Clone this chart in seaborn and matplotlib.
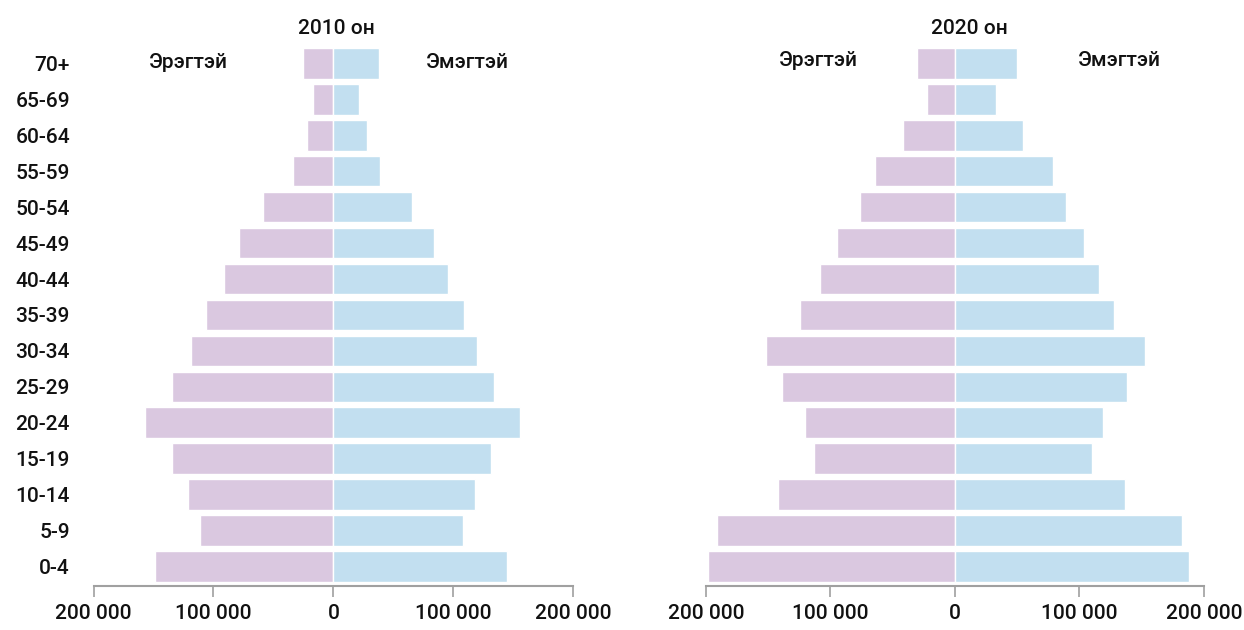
import matplotlib
matplotlib.use("Agg")
import matplotlib.pyplot as plt
from matplotlib.ticker import FuncFormatter, FixedLocator
import seaborn as sns
import pandas as pd

ages = ["70+", "65-69", "60-64", "55-59", "50-54", "45-49", "40-44", "35-39",
        "30-34", "25-29", "20-24", "15-19", "10-14", "5-9", "0-4"]

male_2010 = [25600, 17000, 22000, 33400, 58400, 78800, 91300, 106300,
             119100, 134400, 157500, 134700, 121400, 111600, 148600]
female_2010 = [38300, 21000, 27800, 39000, 65400, 84000, 96000, 109300,
               120200, 134100, 155300, 131900, 118500, 107900, 144700]

male_2020 = [30500, 22500, 41500, 64000, 76400, 94600, 108800, 124300,
             151700, 139300, 120800, 113600, 142500, 191000, 198000]
female_2020 = [50000, 32700, 54900, 78500, 89200, 104000, 115500, 127600,
               153000, 138000, 118700, 109900, 136700, 182200, 187900]

titles = ["2010 он", "2020 он"]
sex_labels = ["Эрэгтэй", "Эмэгтэй"]
xticks = [-200000, -100000, 0, 100000, 200000]

male_color = "#dac8e0"
female_color = "#c2dff0"

sns.set_theme(style="white")
plt.rcParams["font.family"] = ["Roboto", "DejaVu Sans"]
plt.rcParams["font.weight"] = "medium"

FS = 15
TXT = "#111111"

fig = plt.figure(figsize=(12.44, 6.3), dpi=100)
ax1 = fig.add_axes([0.0752, 0.0698, 0.3855, 0.8587])
ax2 = fig.add_axes([0.5675, 0.0698, 0.4003, 0.8587])


def make_df(male, female):
    rows = []
    for a, m, f in zip(ages, male, female):
        rows.append({"age": a, "sex": sex_labels[0], "value": -m})
        rows.append({"age": a, "sex": sex_labels[1], "value": f})
    return pd.DataFrame(rows)


fmt = FuncFormatter(lambda v, p: f"{abs(int(round(v))):,}".replace(",", " "))

for ax, male, female in [(ax1, male_2010, female_2010), (ax2, male_2020, female_2020)]:
    df = make_df(male, female)
    sns.barplot(data=df, x="value", y="age", hue="sex", order=ages,
                hue_order=sex_labels, palette=[male_color, female_color],
                saturation=1, dodge=False, orient="h", width=0.86, errorbar=None,
                edgecolor="white", linewidth=1, legend=False, ax=ax)
    ax.set_xlim(-200000, 200000)
    ax.set_ylim(14.53, -0.5)
    ax.xaxis.set_major_locator(FixedLocator(xticks))
    ax.xaxis.set_major_formatter(fmt)
    ax.set_xlabel("")
    ax.set_ylabel("")
    for s in ["top", "right", "left"]:
        ax.spines[s].set_visible(False)
    ax.spines["bottom"].set_color("#a0a0a0")
    ax.spines["bottom"].set_linewidth(1.5)
    ax.tick_params(axis="x", bottom=True, length=8, width=1.2, color="#a0a0a0",
                   labelsize=FS, pad=5, labelcolor=TXT)

ax1.tick_params(axis="y", left=False, length=0, pad=17, labelsize=FS, labelcolor=TXT)
ax2.tick_params(axis="y", left=False, labelleft=False)

W, H = 1244, 630
fig.text(336 / W, 1 - 29 / H, titles[0], ha="center", va="center", fontsize=FS, color=TXT)
fig.text(969 / W, 1 - 29 / H, titles[1], ha="center", va="center", fontsize=FS, color=TXT)
fig.text(188 / W, 1 - 62 / H, sex_labels[0], ha="center", va="center", fontsize=FS, color=TXT)
fig.text(467 / W, 1 - 62 / H, sex_labels[1], ha="center", va="center", fontsize=FS, color=TXT)
fig.text(818 / W, 1 - 60 / H, sex_labels[0], ha="center", va="center", fontsize=FS, color=TXT)
fig.text(1119 / W, 1 - 60 / H, sex_labels[1], ha="center", va="center", fontsize=FS, color=TXT)

fig.savefig("out.png", dpi=100)
